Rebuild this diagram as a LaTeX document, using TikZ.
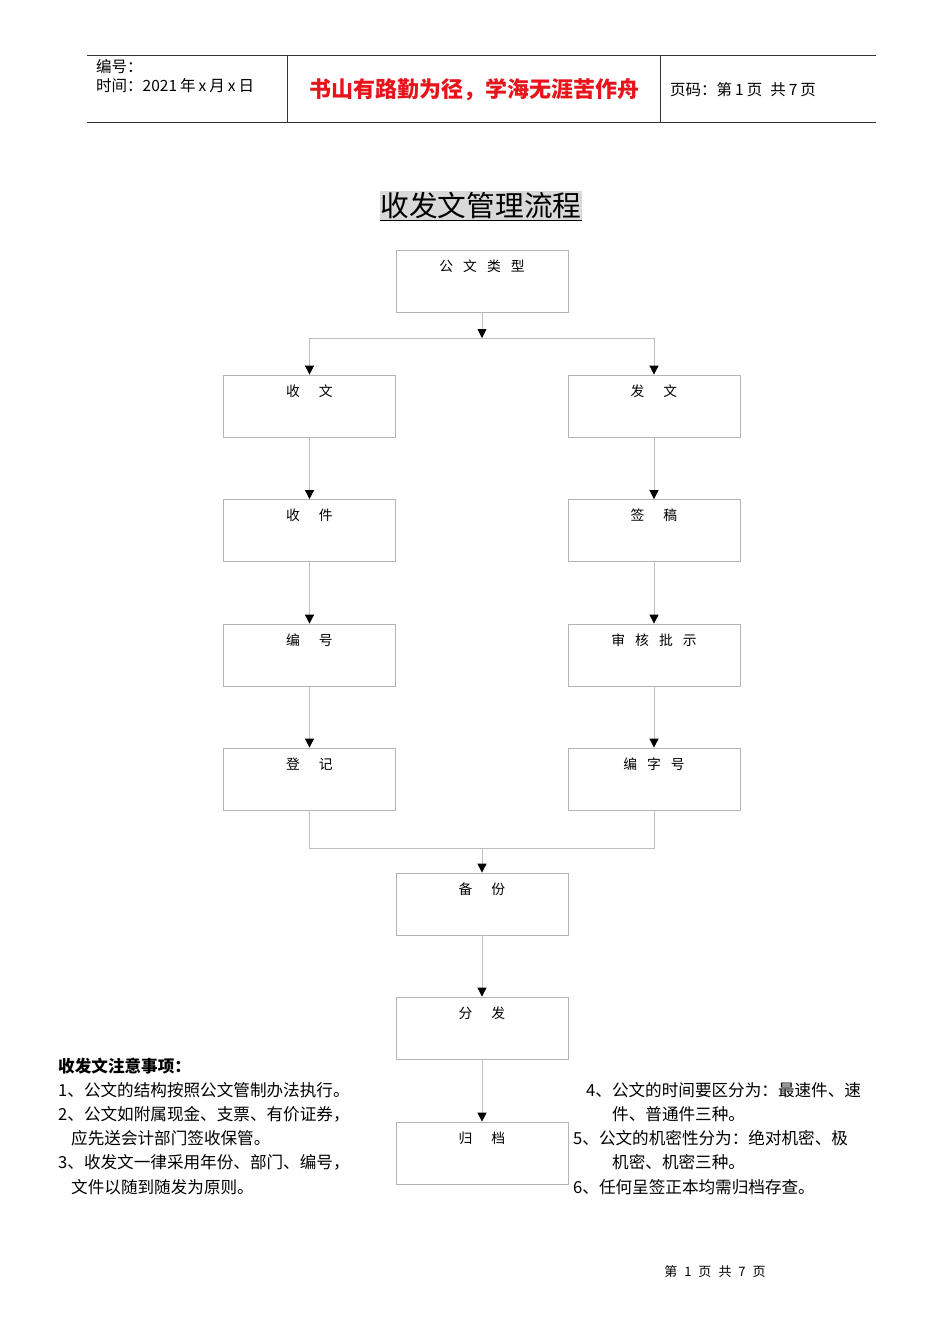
\documentclass[tikz,border=0pt]{standalone}
\usepackage{fontspec}
\setmainfont{Noto Sans CJK SC}
\usetikzlibrary{arrows.meta}
\definecolor{boxgray}{HTML}{B4B4B4}
\definecolor{linegray}{HTML}{BEBEBE}
\definecolor{hlgray}{HTML}{D9D9D9}
\definecolor{redtxt}{HTML}{E8141B}
\begin{document}
\begin{tikzpicture}[x=1pt,y=-1pt,
  box/.style={draw=boxgray, line width=0.8pt, minimum width=172pt, minimum height=62pt, inner sep=0pt},
  blabel/.style={anchor=north, yshift=-10pt, inner sep=0pt, font=\fontsize{13.8}{15}\selectfont},
  conn/.style={draw=linegray, line width=0.8pt},
  arr/.style={conn, -{Triangle[width=9pt,length=9pt,color=black]}},
  note/.style={anchor=base west, inner sep=0pt, font=\fontsize{16.6}{20}\selectfont},
  hdr/.style={anchor=base west, inner sep=0pt, font=\fontsize{15.5}{18}\selectfont},
  hline/.style={draw=black!80, line width=0.8pt}]
\useasboundingbox (0,0) rectangle (950,1344);
\fill[white] (0,0) rectangle (950,1344);

% header
\coordinate (htl) at (87,55);
\coordinate (htr) at (876,55);
\coordinate (hbl) at (87,122);
\coordinate (hbr) at (876,122);
\draw[hline] (htl) -- (htr);
\draw[hline] (hbl) -- (hbr);
\coordinate (v1t) at (287,55); \coordinate (v1b) at (287,122);
\coordinate (v2t) at (660,55); \coordinate (v2b) at (660,122);
\draw[hline] (v1t) -- (v1b);
\draw[hline] (v2t) -- (v2b);
\node[hdr] (hno) at (96,72) {编号：};
\node[hdr] (hdate) at (96,91) {时间：2021\hspace{3pt}年\hspace{3pt}x\hspace{3pt}月\hspace{3pt}x\hspace{3pt}日};
\node[anchor=center, inner sep=0pt, text=redtxt, font=\fontsize{22}{24}\selectfont\bfseries] (motto) at (474,90) {书山有路勤为径，学海无涯苦作舟};
\node[hdr] (hpage) at (670,95) {页码：第\hspace{3pt}1\hspace{3pt}页\hspace{8pt}共\hspace{3pt}7\hspace{3pt}页};

% title
\node[fill=hlgray, inner xsep=0.5pt, inner ysep=2pt, font=\fontsize{28.7}{30}\selectfont] (title) at (481,206) {收发文管理流程};
\draw[black, line width=1pt] ([yshift=1.5pt]title.south west) -- ([yshift=1.5pt]title.south east);

% boxes
\node[box, label={[blabel]north:{公\hspace{10pt}文\hspace{10pt}类\hspace{10pt}型}}] (type) at (482,281.5) {};
\node[box, label={[blabel]north:{收\hspace{19pt}文}}] (sw) at (309.5,406) {};
\node[box, label={[blabel]north:{发\hspace{19pt}文}}] (fw) at (654,406) {};
\node[box, label={[blabel]north:{收\hspace{19pt}件}}] (sj) at (309.5,530.5) {};
\node[box, label={[blabel]north:{签\hspace{19pt}稿}}] (qg) at (654,530.5) {};
\node[box, label={[blabel]north:{编\hspace{19pt}号}}] (bh) at (309.5,655) {};
\node[box, label={[blabel]north:{审\hspace{10pt}核\hspace{10pt}批\hspace{10pt}示}}] (sh) at (654,655) {};
\node[box, label={[blabel]north:{登\hspace{19pt}记}}] (dj) at (309.5,779) {};
\node[box, label={[blabel]north:{编\hspace{10pt}字\hspace{10pt}号}}] (bzh) at (654,779) {};
\node[box, label={[blabel]north:{备\hspace{19pt}份}}] (bf) at (482,904) {};
\node[box, label={[blabel]north:{分\hspace{19pt}发}}] (ff) at (482,1028) {};
\node[box, label={[blabel]north:{归\hspace{19pt}档}}] (gd) at (482,1153) {};

% connectors
\coordinate (split) at (482,338);
\coordinate (join) at (482,848);
\draw[arr] (type.south) -- (split);
\draw[conn] (sw.north |- split) -- (fw.north |- split);
\draw[arr] (sw.north |- split) -- (sw.north);
\draw[arr] (fw.north |- split) -- (fw.north);
\draw[arr] (sw) -- (sj);
\draw[arr] (sj) -- (bh);
\draw[arr] (bh) -- (dj);
\draw[arr] (fw) -- (qg);
\draw[arr] (qg) -- (sh);
\draw[arr] (sh) -- (bzh);
\draw[conn] (dj.south) -- (dj.south |- join) -- (bzh.south |- join) -- (bzh.south);
\draw[arr] (join) -- (bf.north);
\draw[arr] (bf) -- (ff);
\draw[arr] (ff) -- (gd);

% notes left
\node[note, font=\fontsize{16.6}{20}\selectfont\bfseries] (nt) at (58,1072) {收发文注意事项：};
\node[note] (n1) at (58,1096) {1、公文的结构按照公文管制办法执行。};
\node[note] (n2) at (58,1120) {2、公文如附属现金、支票、有价证券，};
\node[note] (n2b) at (71,1144) {应先送会计部门签收保管。};
\node[note] (n3) at (58,1168) {3、收发文一律采用年份、部门、编号，};
\node[note] (n3b) at (71,1193) {文件以随到随发为原则。};

% notes right
\node[note] (n4) at (586,1096) {4、公文的时间要区分为：最速件、速};
\node[note] (n4b) at (612,1120) {件、普通件三种。};
\node[note] (n5) at (573,1144) {5、公文的机密性分为：绝对机密、极};
\node[note] (n5b) at (612,1168) {机密、机密三种。};
\node[note] (n6) at (573,1193) {6、任何呈签正本均需归档存查。};

% footer
\node[inner sep=0pt, font=\fontsize{13}{15}\selectfont] (foot) at (715,1272) {第\hspace{7pt}1\hspace{7pt}页\hspace{7pt}共\hspace{7pt}7\hspace{7pt}页};
\end{tikzpicture}
\end{document}
